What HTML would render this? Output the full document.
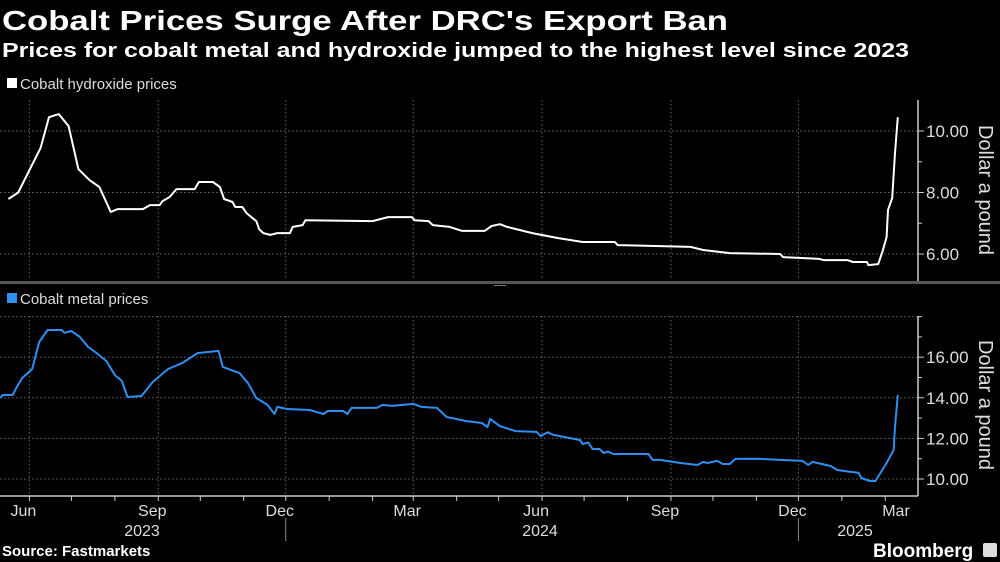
<!DOCTYPE html>
<html><head><meta charset="utf-8"><style>
html,body{margin:0;padding:0;background:#000;}
svg{display:block;font-family:"Liberation Sans",sans-serif;}
</style></head><body>
<svg id="chart" width="1000" height="562" viewBox="0 0 1000 562" xmlns="http://www.w3.org/2000/svg">
<rect width="1000" height="562" fill="#000"/>
<text x="2" y="30" fill="#fff" font-size="28" font-weight="bold" textLength="726" lengthAdjust="spacingAndGlyphs">Cobalt Prices Surge After DRC's Export Ban</text>
<text x="2" y="57" fill="#fff" font-size="20" font-weight="bold" textLength="907" lengthAdjust="spacingAndGlyphs">Prices for cobalt metal and hydroxide jumped to the highest level since 2023</text>
<rect x="7" y="78" width="10" height="10" fill="#fff"/>
<text x="20" y="89" fill="#ddd" font-size="15">Cobalt hydroxide prices</text>
<rect x="7" y="293" width="10" height="10" fill="#2f8ff0"/>
<text x="20" y="304" fill="#ddd" font-size="15">Cobalt metal prices</text>
<rect x="0" y="281" width="1000" height="3" fill="#555"/>
<rect x="494" y="285" width="12" height="1" fill="#777"/>
<g id="grid"></g>
<g id="axes"></g>
<g id="series"></g>
<text x="2" y="556" fill="#fff" font-size="15" font-weight="bold">Source: Fastmarkets</text>
<text x="873" y="557" fill="#fff" font-size="19" font-weight="bold">Bloomberg</text>
<rect x="983" y="543" width="14" height="14" rx="2" fill="#ddd"/>
</svg>
<script>
// Day offsets from 2023-05-11
const hydroDays = [6,13,29,35,42,49,56,64,71,79,84,102,107,114,116,121,126,139,142,152,157,160,166,168,173,176,183,185,188,193,198,207,209,216,218,266,277,294,296,306,309,321,330,346,351,357,362,371,380,398,416,439,441,493,502,521,557,559,585,588,605,609,619,620,627,630,633,634,637,639,641];
const hydroValues = [7.79,8.0,9.45,10.45,10.55,10.16,8.76,8.4,8.18,7.37,7.46,7.46,7.59,7.59,7.72,7.85,8.11,8.11,8.34,8.34,8.18,7.79,7.69,7.53,7.53,7.33,7.07,6.81,6.68,6.62,6.68,6.68,6.88,6.94,7.1,7.07,7.2,7.2,7.1,7.07,6.94,6.88,6.75,6.75,6.91,6.97,6.88,6.78,6.68,6.52,6.39,6.39,6.29,6.23,6.13,6.03,6.0,5.9,5.84,5.8,5.8,5.74,5.74,5.64,5.67,6.07,6.55,7.43,7.82,9.28,10.45];
const metalDays = [0,2,9,12,16,23,25,28,34,44,46,51,57,63,69,76,82,87,91,101,109,120,130,141,156,159,171,177,183,191,196,198,205,221,231,234,245,248,251,269,273,280,295,301,312,319,323,332,344,348,350,357,368,383,386,391,395,414,416,420,423,428,431,434,438,463,466,471,486,498,502,505,512,516,521,525,540,557,573,577,580,593,598,613,615,621,625,633,638,639,641];
const metalValues = [13.99,14.14,14.14,14.53,14.98,15.42,15.96,16.75,17.34,17.34,17.2,17.29,17.0,16.5,16.2,15.81,15.12,14.83,14.04,14.09,14.78,15.42,15.71,16.2,16.31,15.52,15.22,14.73,13.99,13.65,13.2,13.55,13.45,13.4,13.2,13.35,13.35,13.2,13.5,13.5,13.65,13.6,13.7,13.55,13.5,13.05,13.0,12.86,12.76,12.56,12.96,12.6,12.36,12.32,12.12,12.3,12.17,11.92,11.72,11.8,11.48,11.48,11.28,11.35,11.23,11.23,10.94,10.94,10.79,10.69,10.84,10.79,10.89,10.74,10.74,10.99,11.0,10.94,10.89,10.69,10.84,10.64,10.44,10.3,10.05,9.9,9.9,10.79,11.43,12.56,14.14];
const hydroTicks = [6,8,10];
const hydroMinor = [7,9];
const metalTicks = [10,12,14,16];
const metalMinor = [11,13,15,17,18];
const monthLabels = ["Jun","Sep","Dec","Mar","Jun","Sep","Dec","Mar"];
const yearLabels = ["2023","2024","2025"];

const NS="http://www.w3.org/2000/svg";
const START=Date.UTC(2023,4,11);
const PXD=1.4007;
const AX=918;
function xDate(ms){return (ms-START)/86400000*PXD;}
function xDay(d){return d*PXD;}
function yHydro(v){return 131-(v-10)*30.75;}
function yMetal(v){return 479-(v-10)*20.3;}
function mk(tag,attrs,parent){const e=document.createElementNS(NS,tag);for(const k in attrs)e.setAttribute(k,attrs[k]);parent.appendChild(e);return e;}
const grid=document.getElementById('grid'),axes=document.getElementById('axes'),series=document.getElementById('series');

const quarterMonths=[[2023,5],[2023,8],[2023,11],[2024,2],[2024,5],[2024,8],[2024,11]];
quarterMonths.forEach(function(q){
  const x=xDate(Date.UTC(q[0],q[1],1));
  const a=mk('line',{x1:x,x2:x,y1:100,y2:280,stroke:'#666','stroke-dasharray':'1.5,2.5'},grid);
  
  
  const b=mk('line',{x1:x,x2:x,y1:316,y2:496,stroke:'#666','stroke-dasharray':'1.5,2.5'},grid);
  
  
});
hydroTicks.forEach(function(v){
  const y=yHydro(v);
  const l=mk('line',{x1:0,x2:AX,y1:y,y2:y,stroke:'#666','stroke-dasharray':'1.5,2.5'},grid);
  
  
  mk('line',{x1:AX,x2:AX+6,y1:y,y2:y,stroke:'#ccc'},axes);
  const t=mk('text',{x:AX+8,y:y+6,fill:'#ddd','font-size':'17'},axes);
  t.textContent=v.toFixed(2);
  
  
});
hydroMinor.forEach(function(v){const y=yHydro(v);mk('line',{x1:AX,x2:AX+4,y1:y,y2:y,stroke:'#ccc'},axes);});
metalTicks.forEach(function(v){
  const y=yMetal(v);
  const l=mk('line',{x1:0,x2:AX,y1:y,y2:y,stroke:'#666','stroke-dasharray':'1.5,2.5'},grid);
  
  
  mk('line',{x1:AX,x2:AX+6,y1:y,y2:y,stroke:'#ccc'},axes);
  const t=mk('text',{x:AX+8,y:y+6,fill:'#ddd','font-size':'17'},axes);
  t.textContent=v.toFixed(2);
  
  
});
metalMinor.forEach(function(v){const y=yMetal(v);
  if(v===18){mk('line',{x1:0,x2:AX,y1:y,y2:y,stroke:'#666','stroke-dasharray':'1.5,2.5'},grid);}
  mk('line',{x1:AX,x2:AX+4,y1:y,y2:y,stroke:'#ccc'},axes);});
const ya1=mk('line',{x1:AX,x2:AX,y1:100,y2:281,stroke:'#ccc','stroke-width':1.5},axes);

const ya2=mk('line',{x1:AX,x2:AX,y1:316,y2:496,stroke:'#ccc','stroke-width':1.5},axes);

const xa=mk('line',{x1:0,x2:AX,y1:496,y2:496,stroke:'#ccc','stroke-width':1.5},axes);

[190,405].forEach(function(cy,i){
  const t=mk('text',{x:0,y:0,fill:'#ddd','font-size':'20','text-anchor':'middle',transform:'translate(979,'+cy+') rotate(90)'},axes);
  t.textContent='Dollar a pound';
  
  
});
for(let m=0;m<22;m++){
  const d=Date.UTC(2023,5+m,1);const x=xDate(d);
  if(x>AX)break;
  mk('line',{x1:x,x2:x,y1:496,y2:501,stroke:'#ccc'},axes);
}
const labelMonths=[[2023,5],[2023,8],[2023,11],[2024,2],[2024,5],[2024,8],[2024,11],[2025,2]];
labelMonths.forEach(function(q,i){
  let x=xDate(Date.UTC(q[0],q[1],1))-6;
  if(x>AX-10)x=896;
  const t=mk('text',{x:x,y:516,fill:'#ddd','font-size':'16','text-anchor':'middle'},axes);
  t.textContent=monthLabels[i];
  
  
});
const yearX=[142,540,855];
yearLabels.forEach(function(y,i){
  const t=mk('text',{x:yearX[i],y:536,fill:'#ddd','font-size':'16','text-anchor':'middle'},axes);
  t.textContent=y;
  
  
});
[Date.UTC(2023,11,1),Date.UTC(2024,11,1)].forEach(function(d){
  const x=xDate(d);
  const s=mk('line',{x1:x,x2:x,y1:518,y2:541,stroke:'#888'},axes);
  
  
});
function path(days,vals,yf){return days.map(function(d,i){return (i?'L':'M')+xDay(d).toFixed(1)+','+yf(vals[i]).toFixed(1);}).join('');}
const p1=mk('path',{d:path(hydroDays,hydroValues,yHydro),fill:'none',stroke:'#fff','stroke-width':2,'stroke-linejoin':'round'},series);


const p2=mk('path',{d:path(metalDays,metalValues,yMetal),fill:'none',stroke:'#2f8ff0','stroke-width':2,'stroke-linejoin':'round'},series);


</script>
</body></html>
